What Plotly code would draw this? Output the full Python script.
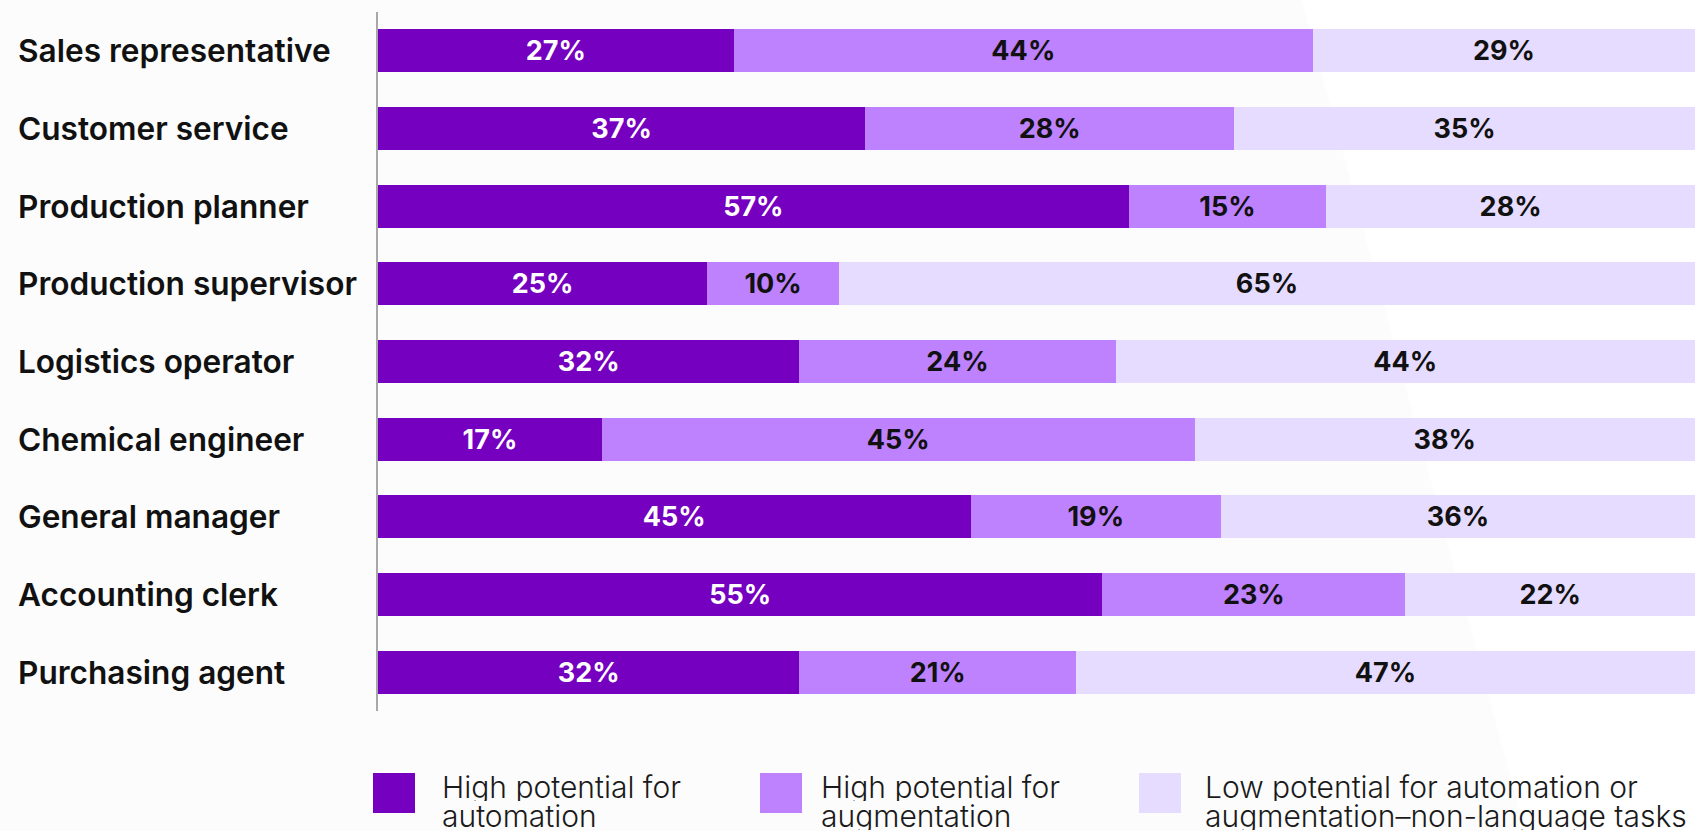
import plotly.graph_objects as go

categories = ["Sales representative", "Customer service", "Production planner",
              "Production supervisor", "Logistics operator", "Chemical engineer",
              "General manager", "Accounting clerk", "Purchasing agent"]
automation = [27, 37, 57, 25, 32, 17, 45, 55, 32]
augmentation = [44, 28, 15, 10, 24, 45, 19, 23, 21]
low_potential = [29, 35, 28, 65, 44, 38, 36, 22, 47]
series_names = ["High potential for<br>automation",
                "High potential for<br>augmentation",
                "Low potential for automation or<br>augmentation\u2013non-language tasks"]
colors = ["#7500C0", "#BE82FF", "#E6DCFF"]
text_colors = ["#FFFFFF", "#111111", "#111111"]

W, H = 1695, 831
L, R, T, B = 378, 0, 12, 120
pw, ph = W - L - R, H - T - B

def px2x(px):
    return (px - L) / pw

def py2y(py):
    return (H - B - py) / ph

fig = go.Figure()
for vals, name, col, tcol in zip([automation, augmentation, low_potential], series_names, colors, text_colors):
    fig.add_trace(go.Bar(
        y=categories, x=vals, orientation="h", name=name,
        marker=dict(color=col, line=dict(width=0)),
        texttemplate="%{x}%", textposition="inside", insidetextanchor="middle",
        textangle=0, constraintext="none",
        textfont=dict(family="Inter", size=27, color=tcol, weight=700),
        showlegend=False, hoverinfo="skip",
    ))

annotations = []
for c in categories:
    annotations.append(dict(
        x=px2x(16), xref="paper", y=c, yref="y", text=c, showarrow=False,
        xanchor="left", yanchor="middle",
        font=dict(family="Inter", size=31.6, color="#111111", weight=600),
    ))

shapes = [dict(type="path", xref="paper", yref="paper", layer="below",
               path=f"M {px2x(1302)},{py2y(0)} L 1,{py2y(0)} L 1,{py2y(831)} L {px2x(1525)},{py2y(831)} Z",
               fillcolor="#FFFFFF", line=dict(width=0))]

legend_sq = [373, 760, 1139]
legend_tx = [441, 820, 1204]
for sx, tx, name, col in zip(legend_sq, legend_tx, series_names, colors):
    shapes.append(dict(type="rect", xref="paper", yref="paper",
                       x0=px2x(sx), x1=px2x(sx + 42), y0=py2y(773), y1=py2y(813),
                       fillcolor=col, line=dict(width=0)))
    for i, line in enumerate(name.split("<br>")):
        annotations.append(dict(
            x=px2x(tx), xref="paper", y=py2y(786 + 29 * i), yref="paper", text=line,
            showarrow=False, xanchor="left", yanchor="middle", align="left",
            height=29, valign="middle", borderpad=0,
            font=dict(family="Inter", size=30, color="#1a1a1a", weight=300),
        ))

fig.update_layout(
    barmode="stack", bargap=0.446,
    width=W, height=H,
    margin=dict(l=L, r=R, t=T, b=B, pad=0),
    paper_bgcolor="#FCFCFC", plot_bgcolor="rgba(0,0,0,0)",
    xaxis=dict(range=[0, 100], visible=False, fixedrange=True),
    yaxis=dict(type="category", categoryorder="array", categoryarray=categories,
               range=[8.5, -0.5], showticklabels=False, showgrid=False,
               showline=True, linecolor="#A8A8A8", linewidth=2, ticks="",
               zeroline=False, fixedrange=True),
    annotations=annotations, shapes=shapes,
)

fig.write_html("out.html", config={"displayModeBar": False},
               post_script="document.body.style.margin='0';document.body.style.overflow='hidden';")
